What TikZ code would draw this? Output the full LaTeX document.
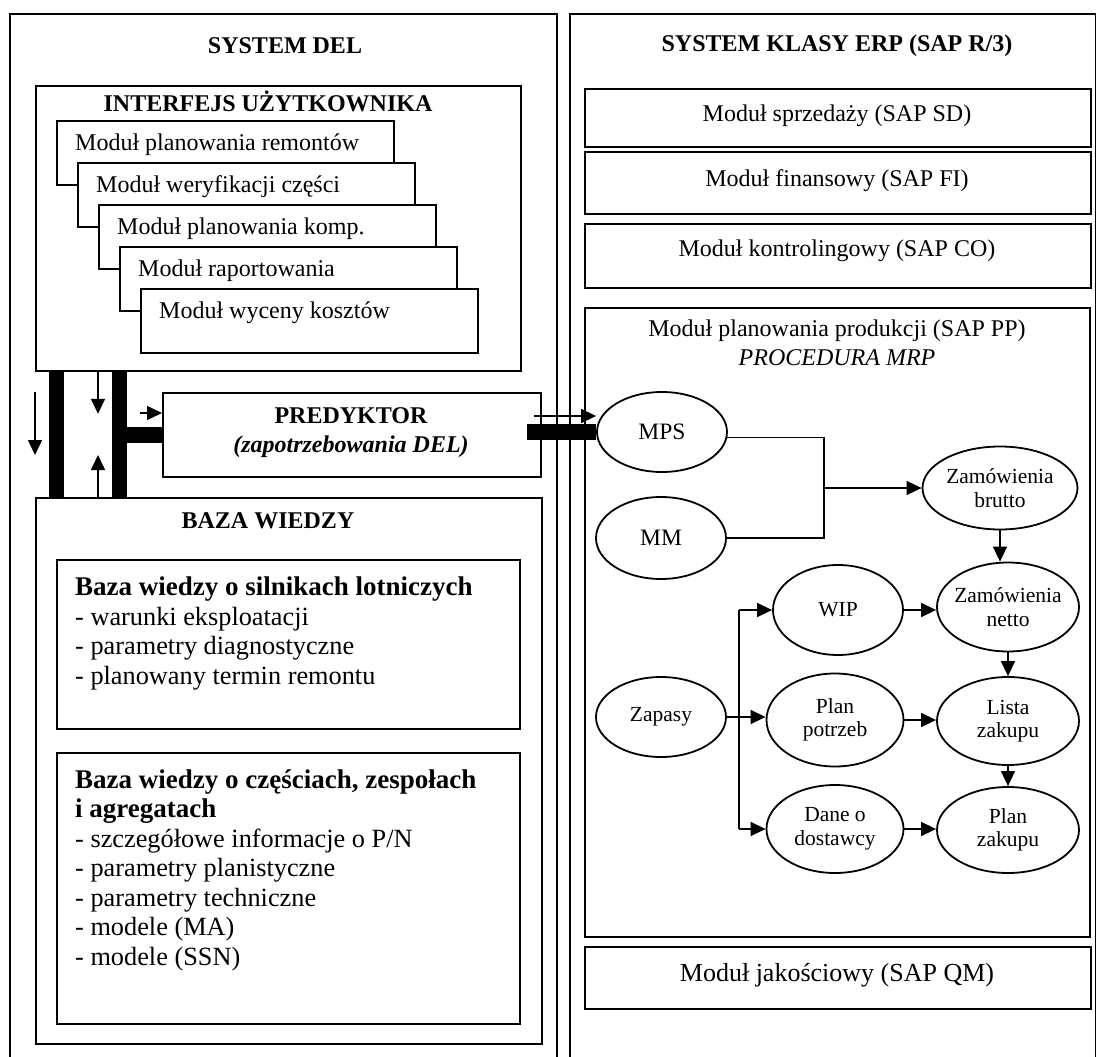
\documentclass[tikz,border=0pt]{standalone}
\usepackage{fontspec}
\setmainfont{Liberation Serif}
\usetikzlibrary{arrows.meta,shapes.geometric}
\tikzset{
 panel/.style={draw, line width=1.8pt, fill=white, inner sep=0pt, anchor=north west},
 ttl/.style={font=\fontsize{24}{28}\selectfont\bfseries, inner sep=0pt},
 modt/.style={font=\fontsize{24}{28}\selectfont, inner sep=0pt},
 kbt/.style={font=\fontsize{26.3}{30}\selectfont, inner sep=0pt, anchor=base west},
 kbh/.style={font=\fontsize{27}{30}\selectfont\bfseries, inner sep=0pt, anchor=base west},
 ell/.style={draw, ellipse, line width=1.8pt, inner xsep=-6pt, inner ysep=0pt, align=center, font=\fontsize{21.5}{23.5}\selectfont},
 arr/.style={line width=1.5pt, -{Triangle[length=15pt,width=14pt]}},
 con/.style={line width=1.5pt},
 vbar/.style={line width=15pt},
 hbar/.style={line width=16pt},
}
\begin{document}
\begin{tikzpicture}[x=1pt,y=-1pt]
\useasboundingbox (0,0) rectangle (1096,1057);
\clip (0,0) rectangle (1096,1057);
% outer panels
\node[panel, minimum width=547pt, minimum height=1070pt] (del) at (9,13) {};
\node[panel, minimum width=526pt, minimum height=1070pt] (erp) at (569,13) {};
\node[ttl] (tdel) at (285,46) {SYSTEM DEL};
\node[ttl] (terp) at (837,46) {SYSTEM KLASY ERP (SAP R/3)};
% user interface
\node[panel, minimum width=485pt, minimum height=285pt] (ui) at (35,85) {};
\node[ttl] (tui) at (268,101) {INTERFEJS UŻYTKOWNIKA};
\node[panel, minimum width=337pt, minimum height=64pt] (m1) at (56,120) {};
\node[modt, anchor=west] (t1) at (75,145) {Moduł planowania remontów};
\node[panel, minimum width=337pt, minimum height=64pt] (m2) at (77,162) {};
\node[modt, anchor=west] (t2) at (96,187) {Moduł weryfikacji części};
\node[panel, minimum width=337pt, minimum height=64pt] (m3) at (98,204) {};
\node[modt, anchor=west] (t3) at (117,229) {Moduł planowania komp.};
\node[panel, minimum width=337pt, minimum height=64pt] (m4) at (119,246) {};
\node[modt, anchor=west] (t4) at (138,271) {Moduł raportowania};
\node[panel, minimum width=337pt, minimum height=64pt] (m5) at (140,288) {};
\node[modt, anchor=west] (t5) at (159,313) {Moduł wyceny kosztów};
% predictor
\node[panel, minimum width=378pt, minimum height=84pt] (pred) at (162,392) {};
\node[ttl] (tpred) at (351,416) {PREDYKTOR};
\node[ttl, font=\fontsize{24}{28}\selectfont\bfseries\itshape] (tpred2) at (351,447) {(zapotrzebowania DEL)};
% knowledge base
\node[panel, minimum width=506pt, minimum height=546pt] (kb) at (35,497) {};
\node[ttl] (tkb) at (268,521) {BAZA WIEDZY};
\node[panel, minimum width=463pt, minimum height=169pt] (kb1) at (56,559) {};
\node[kbh] (k11) at (75,595) {Baza wiedzy o silnikach lotniczych};
\node[kbt] (k12) at (75,625) {- warunki eksploatacji};
\node[kbt] (k13) at (75,654) {- parametry diagnostyczne};
\node[kbt] (k14) at (75,684) {- planowany termin remontu};
\node[panel, minimum width=463pt, minimum height=271pt] (kb2) at (56,752) {};
\node[kbh] (k21) at (75,788) {Baza wiedzy o częściach, zespołach};
\node[kbh] (k22) at (75,817.5) {i agregatach};
\node[kbt] (k23) at (75,847) {- szczegółowe informacje o P/N};
\node[kbt] (k24) at (75,876.5) {- parametry planistyczne};
\node[kbt] (k25) at (75,906) {- parametry techniczne};
\node[kbt] (k26) at (75,935.5) {- modele (MA)};
\node[kbt] (k27) at (75,965) {- modele (SSN)};
% ERP modules
\node[panel, minimum width=506pt, minimum height=58pt] (sd) at (584,88) {};
\node[modt] (tsd) at (837,116) {Moduł sprzedaży (SAP SD)};
\node[panel, minimum width=506pt, minimum height=62pt] (fi) at (584,151) {};
\node[modt] (tfi) at (837,181) {Moduł finansowy (SAP FI)};
\node[panel, minimum width=506pt, minimum height=64pt] (co) at (584,223) {};
\node[modt] (tco) at (837,251) {Moduł kontrolingowy (SAP CO)};
\node[panel, minimum width=505pt, minimum height=629pt] (pp) at (584,307) {};
\node[modt] (tpp) at (837,331) {Moduł planowania produkcji (SAP PP)};
\node[modt, font=\fontsize{24}{28}\selectfont\itshape] (tpp2) at (837,358) {PROCEDURA MRP};
\node[panel, minimum width=506pt, minimum height=62pt] (qm) at (584,946) {};
\node[modt, font=\fontsize{26}{30}\selectfont] (tqm) at (837,975) {Moduł jakościowy (SAP QM)};
% MRP ellipses
\node[ell, minimum width=130pt, minimum height=80pt, font=\fontsize{23.5}{26}\selectfont] (mps) at (662,432) {MPS};
\node[ell, minimum width=130pt, minimum height=82pt, font=\fontsize{23.5}{26}\selectfont] (mm) at (661,538) {MM};
\node[ell, minimum width=155pt, minimum height=83pt] (brutto) at (1000,488) {Zamówienia\\brutto};
\node[ell, minimum width=142pt, minimum height=89pt] (netto) at (1008,607) {Zamówienia\\netto};
\node[ell, minimum width=130pt, minimum height=90pt] (wip) at (838,610) {WIP};
\node[ell, minimum width=130pt, minimum height=80pt] (zap) at (661,717) {Zapasy};
\node[ell, minimum width=137pt, minimum height=93pt] (plan) at (835,720) {Plan\\potrzeb};
\node[ell, minimum width=142pt, minimum height=88pt] (lista) at (1008,721) {Lista\\zakupu};
\node[ell, minimum width=137pt, minimum height=88pt] (dane) at (835,829) {Dane o\\dostawcy};
\node[ell, minimum width=142pt, minimum height=86pt] (planz) at (1008,830) {Plan\\zakupu};
% MRP connectors
\coordinate (jx) at (824,488);
\draw[con] (mps.-5) -| (jx) |- (mm.east);
\draw[arr] (jx) -- (jx -| brutto.west);
\draw[arr] (brutto.south) -- (brutto.south |- netto.north);
\draw[arr] (netto.south) -- (lista.north);
\draw[arr] (lista.south) -- (planz.north);
\draw[arr] (wip.east) -- (wip.east -| netto.west);
\draw[arr] (plan.east) -- (plan.east -| lista.west);
\draw[arr] (dane.east) -- (dane.east -| planz.west);
\coordinate (br) at (739,717);
\draw[arr] (zap.east) -- (zap.east -| plan.west);
\draw[con] (br |- wip.west) -- (br |- dane.west);
\draw[arr] (br |- wip.west) -- (wip.west);
\draw[arr] (br |- dane.west) -- (dane.west);
% predictor to MPS
\coordinate (pe) at ([xshift=-15pt]pred.east);
\draw[hbar] (pe |- mps.west) -- (mps.west);
\coordinate (pa) at (534,416);
\draw[arr] (pa) -- (pa -| mps.west);
% left bus
\coordinate (b1) at (56.5,0);
\coordinate (b2) at (119.5,0);
\draw[vbar] (b1 |- ui.south) -- (b1 |- kb.north);
\draw[vbar] (b2 |- ui.south) -- (b2 |- kb.north);
\draw[hbar] (b2 |- pred.west) -- (pred.west);
\coordinate (am) at (98,0);
\draw[arr] (am |- ui.south) -- ++(0,42);
\draw[arr] (am |- kb.north) -- ++(0,-42);
\coordinate (al) at (35,392);
\draw[arr] (al) -- ++(0,63);
\coordinate (ap) at (140,413);
\draw[arr] (ap) -- (ap -| pred.west);
\end{tikzpicture}
\end{document}
